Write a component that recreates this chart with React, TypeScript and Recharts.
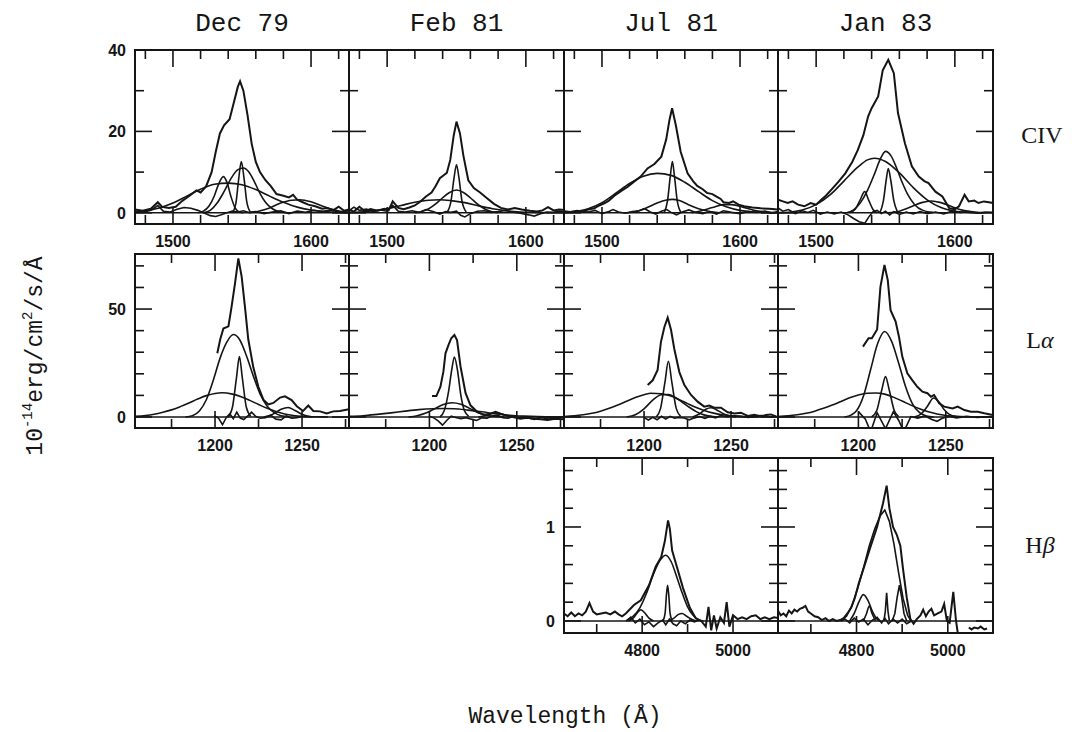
import { LineChart, Line, XAxis, YAxis, ReferenceLine } from "recharts"

// ============================================
// DATA ([wavelength Å, flux 1e-14 erg/cm2/s/Å])
// ============================================

type Pt = [number, number]

// ---------- CIV ----------
const civDec79Obs: Pt[] = [[1472.5,0.8],[1478,0.5],[1484,1.0],[1489,2.6],[1492,1.5],[1497,1.2],[1502,1.5],[1507,3.0],[1512,4.2],[1517,5.5],[1520,5.0],[1524,6.5],[1528,10],[1531,15],[1534,19.5],[1537,21.5],[1541,23],[1544,27],[1547,31],[1548.6,32.3],[1551,30],[1554,24],[1557,17],[1560,12.5],[1563,10],[1567,8],[1571,6.5],[1575,4.6],[1580,4.2],[1584,3.8],[1587,4.4],[1590,3.2],[1594,2.6],[1598,2.0],[1603,1.6],[1608,1.0],[1612,1.2],[1616,0.6],[1620,1.5],[1624,0.5],[1627.5,0.8]]
const civDec79Broad: Pt[] = [[1472.5,0.2],[1480,0.5],[1490,1.2],[1500,2.4],[1510,4.1],[1520,5.8],[1530,7.0],[1540,7.3],[1550,6.9],[1560,5.7],[1570,4.1],[1580,2.6],[1590,1.4],[1600,0.7],[1610,0.3],[1620,0.1],[1627.5,0.05]]
const civDec79Blue: Pt[] = [[1518,0],[1522,0.4],[1526,1.6],[1530,4.2],[1533,7.0],[1536.5,8.9],[1539,7.6],[1542,4.0],[1545,1.2],[1548,0.2],[1551,0]]
const civDec79Mid: Pt[] = [[1522,0],[1527,0.6],[1532,2.4],[1537,5.2],[1542,8.4],[1547,10.6],[1551,11],[1555,10],[1559,7.6],[1563,4.8],[1567,2.6],[1572,1.0],[1578,0.2],[1583,0]]
const civDec79Narrow: Pt[] = [[1543,0],[1545.5,2.2],[1547.5,8],[1549.5,12.6],[1551.5,8.4],[1553.5,2.6],[1556,0.2]]
const civDec79Red: Pt[] = [[1555,0],[1562,0.4],[1570,1.2],[1578,2.4],[1586,3.1],[1592,3.2],[1600,2.7],[1608,1.7],[1616,0.8],[1622,0.3],[1627.5,0.1]]
const civDec79Resid: Pt[] = [[1472.5,0.4],[1478,0.1],[1484,0.6],[1489,1.8],[1493,0.4],[1498,0.2],[1503,0.9],[1508,1.3],[1513,1.1],[1518,0.6],[1523,-0.1],[1527,-0.7],[1531,-0.9],[1535,-0.5],[1539,0.0],[1543,0.4],[1547,0.2],[1551,0.5],[1555,0.1],[1560,0.3],[1566,-0.2],[1572,0.2],[1578,0.5],[1584,-0.2],[1590,0.4],[1596,0.1],[1602,0.6],[1608,0.3],[1614,0.7],[1620,0.2],[1627.5,0.5]]

const civFeb81Obs: Pt[] = [[1472.5,0.8],[1476,0.3],[1480,1.5],[1484,0.4],[1488,0.9],[1493,0.5],[1498,1.0],[1501,0.6],[1504,2.8],[1508,1.2],[1512,0.9],[1516,1.3],[1520,1.8],[1524,2.8],[1528,4.0],[1532,5.0],[1535,6.6],[1538,8.5],[1541,9.3],[1543,9.8],[1545.5,13],[1548,19],[1550,22.4],[1552.5,19.5],[1555,14],[1558.5,8],[1562.5,6.1],[1567,5.0],[1572,3.6],[1577,2.2],[1582,1.2],[1587,0.8],[1592,1.2],[1597,0.8],[1603,0.5],[1608,0.3],[1612,0.6],[1616,1.4],[1620,0.6],[1624,0.8],[1627.5,0.7]]
const civFeb81Narrow: Pt[] = [[1543,0],[1546,2.8],[1548.2,8.5],[1550,11.8],[1551.8,8.5],[1554,2.8],[1557,0.2]]
const civFeb81Mid: Pt[] = [[1520,0],[1525,0.3],[1530,1.0],[1535,2.2],[1540,3.7],[1545,5.0],[1550,5.6],[1555,5.0],[1560,3.7],[1565,2.2],[1570,1.0],[1575,0.3],[1580,0]]
const civFeb81Broad: Pt[] = [[1472.5,0.1],[1480,0.2],[1490,0.5],[1500,1.0],[1510,1.8],[1520,2.6],[1530,3.1],[1538,3.2],[1546,3.0],[1556,2.5],[1566,1.7],[1576,1.0],[1586,0.5],[1596,0.2],[1606,0.1],[1616,0]]
const civFeb81Resid: Pt[] = [[1472.5,0.5],[1476,1.4],[1480,0.6],[1485,0.9],[1490,0.3],[1495,0.7],[1500,0.4],[1504,1.8],[1508,0.4],[1513,0.2],[1518,0.5],[1523,0.1],[1528,0.8],[1533,0.3],[1538,-0.3],[1542,0.3],[1546,0.1],[1550,0.4],[1553,-0.6],[1556,-1.0],[1560,-0.2],[1565,0.4],[1570,0.5],[1575,0.1],[1580,0.3],[1585,0.6],[1590,0.2],[1596,-0.1],[1602,-0.5],[1606,-0.8],[1610,-0.3],[1615,0.2],[1620,0.1],[1624,0.4],[1627.5,0.2]]

const civJul81Obs: Pt[] = [[1472.5,0.4],[1477,0.2],[1482,0.5],[1486,0.3],[1490,0.8],[1494.5,1.1],[1498,1.8],[1502,2.4],[1505,3.0],[1509,4.2],[1514,5.4],[1518.7,6.4],[1523,7.6],[1528,8.9],[1533,10.9],[1538,12],[1543,13.8],[1546.5,18],[1549,23],[1550.8,25.7],[1553.5,21.5],[1557,15],[1562,9.7],[1566,7.8],[1569,6.6],[1573,5.8],[1576,4.9],[1580,4.6],[1583,4.0],[1586,3.4],[1588,2.6],[1592,2.4],[1595,2.8],[1599,2.0],[1603,1.6],[1609,1.3],[1615,1.1],[1621,1.0],[1627.5,0.8]]
const civJul81Broad: Pt[] = [[1472.5,0.05],[1480,0.3],[1490,1.0],[1500,2.5],[1510,4.8],[1520,7.2],[1530,9.0],[1540,9.7],[1550,9.2],[1560,7.5],[1570,5.2],[1580,3.0],[1590,1.5],[1600,0.6],[1610,0.2],[1620,0.05],[1627.5,0]]
const civJul81Narrow: Pt[] = [[1545,0],[1547.5,3],[1549.5,9],[1551,12.6],[1552.5,9],[1554.5,3],[1557,0.2]]
const civJul81Mid: Pt[] = [[1518,0],[1525,0.3],[1532,1.2],[1540,2.4],[1546,3.1],[1551,3.3],[1556,3.0],[1562,2.1],[1570,1.0],[1578,0.3],[1585,0]]
const civJul81Red: Pt[] = [[1565,0],[1572,0.5],[1580,1.3],[1588,2.0],[1594,2.0],[1602,1.4],[1610,0.6],[1618,0.2],[1625,0]]
const civJul81Resid: Pt[] = [[1472.5,0.3],[1478,0.1],[1484,0.4],[1490,0.2],[1495,0.6],[1500,-0.2],[1505,0.3],[1508,0.8],[1512,0.2],[1517,-0.1],[1522,0.3],[1527,0.5],[1531,1.0],[1535,0.2],[1539,-0.3],[1543,0.4],[1547,0.8],[1550,0.1],[1554,-0.5],[1558,0.2],[1563,0.7],[1568,0.1],[1573,-0.2],[1578,0.3],[1583,-0.3],[1588,0.5],[1594,0.1],[1600,-0.2],[1606,0.3],[1612,0.1],[1618,0.4],[1623,0.0],[1627.5,0.3]]

const civJan83Obs: Pt[] = [[1472.5,3.2],[1476,2.8],[1479.5,2.4],[1483,2.8],[1487,2.0],[1491.5,1.6],[1496,2.4],[1500,2.0],[1503.7,3.2],[1507,4.2],[1511,5.7],[1516,7.6],[1521,9.7],[1526,12.5],[1530,15.4],[1534,19],[1537.5,23.7],[1540,25.7],[1544.7,28.6],[1548,35],[1552,37.6],[1556,34.3],[1559,24.5],[1564,17.1],[1569,11.4],[1574,8.9],[1578,7.8],[1581,7.3],[1586,5.2],[1591,4.0],[1596,1.1],[1600,0.9],[1603,1.6],[1607,4.4],[1610,2.8],[1614,3.0],[1617,2.4],[1621,2.8],[1624.5,2.6],[1627.5,2.4]]
const civJan83Broad: Pt[] = [[1472.5,0.05],[1480,0.15],[1490,0.7],[1500,2.0],[1510,4.4],[1520,7.8],[1530,11.2],[1537,13.0],[1542,13.4],[1550,12.6],[1560,9.8],[1570,6.2],[1580,3.2],[1590,1.3],[1600,0.4],[1610,0.1],[1620,0]]
const civJan83Mid: Pt[] = [[1522,0],[1527,0.7],[1532,2.5],[1537,5.5],[1542,9.5],[1546,13],[1550,15.1],[1554,14],[1558,11],[1562,7.5],[1566,4.5],[1571,2.0],[1577,0.6],[1584,0.1]]
const civJan83Narrow: Pt[] = [[1546,0],[1548.5,3],[1550.5,8],[1552,10.9],[1553.8,8],[1556,3],[1558.5,0.3]]
const civJan83Blue: Pt[] = [[1524,0],[1528,0.8],[1531.5,3],[1535,5.2],[1538,3],[1541,0.8],[1544,0]]
const civJan83Red: Pt[] = [[1552,0],[1560,0.4],[1568,1.4],[1576,2.5],[1583,2.9],[1590,2.5],[1598,1.5],[1606,0.6],[1614,0.2],[1622,0]]
const civJan83Resid: Pt[] = [[1472.5,1.2],[1476,0.4],[1480,0.8],[1485,-0.2],[1490,0.5],[1494,0.1],[1498,0.6],[1503,-0.3],[1508,0.2],[1513,-0.3],[1518,0.2],[1523,-0.5],[1527,-1.4],[1531,-2.2],[1535,-2.6],[1538,-1.0],[1541,0.3],[1544,0.6],[1547,-0.2],[1550,0.4],[1553,-0.5],[1556,0.3],[1560,-0.4],[1565,0.2],[1570,-0.3],[1575,0.3],[1580,-0.2],[1586,0.2],[1592,-0.3],[1598,0.4],[1604,0.1],[1610,0.3],[1616,-0.1],[1622,0.2],[1627.5,0.1]]

// ---------- Lyman alpha ----------
const lyaDec79Obs: Pt[] = [[1201.3,29.5],[1203,36],[1204.8,41],[1207.7,42],[1209.5,51],[1211.5,62],[1213.4,73.5],[1215.3,65],[1217.2,51],[1219.1,36],[1222,23],[1224.9,14],[1227.8,8],[1230.7,5.8],[1233.5,6.5],[1237.4,9],[1240.2,9.6],[1244,7.8],[1247,5],[1250.6,2.8],[1253.6,5.3],[1256.5,2.8],[1260.3,2.6],[1264.2,1.6],[1268,2.6],[1271.8,2.8],[1277,3.6]]
const lyaDec79Broad: Pt[] = [[1154,0.3],[1160,0.7],[1165,1.3],[1170,2.2],[1175,3.3],[1180,4.8],[1185,6.5],[1190,8.3],[1195,9.9],[1200,10.9],[1204,11.2],[1210,10.6],[1215,9.4],[1220,7.7],[1225,5.8],[1230,4.0],[1235,2.5],[1240,1.4],[1245,0.7],[1250,0.3],[1258,0.1],[1265,0]]
const lyaDec79Mid: Pt[] = [[1183,0],[1187,0.6],[1191,2.8],[1195,8],[1199,17],[1203,27.5],[1207,35],[1210.5,38.2],[1214,36],[1218,28.5],[1222,19],[1226,10.5],[1230,5],[1234,2],[1238,0.6],[1243,0.1]]
const lyaDec79Narrow: Pt[] = [[1207.5,0],[1210,4.5],[1212.3,18],[1214,28],[1215.7,18],[1218,4.5],[1220.5,0.3]]
const lyaDec79Red: Pt[] = [[1228,0],[1233,1.2],[1238,3.6],[1242,4.4],[1246,3.0],[1251,0.9],[1256,0]]
const lyaDec79Resid: Pt[] = [[1199.5,0.6],[1202,-0.5],[1204.3,-3.5],[1206.5,-0.2],[1208.5,1.5],[1210.5,-0.8],[1212.5,2.2],[1214.5,-0.5],[1216.5,-1.2],[1219,0.6],[1221,2.2],[1223.5,0.2],[1226,-0.6],[1229,-0.3],[1232,0.8],[1235,-1.0],[1238,-1.3],[1241,0.5],[1244,-0.6],[1247,-0.3],[1250,0.2]]

const lyaFeb81Obs: Pt[] = [[1201.5,9.7],[1204,9.7],[1206.3,14],[1208,21],[1209.2,29.5],[1211,33.5],[1212.5,36.5],[1214.3,38],[1215.8,35.6],[1217.8,23.4],[1220.7,11],[1223.5,5.4],[1227.3,2.4],[1231.2,1.0],[1235,1.5],[1237.8,2.4],[1240.7,1.5],[1243.5,0.8],[1246.5,0.2],[1252,-0.8],[1256,-0.3],[1259.9,-0.8],[1263.7,-1.1],[1267.6,-1.4],[1272,-0.8],[1277,-1.1]]
const lyaFeb81Narrow: Pt[] = [[1206,0],[1208.5,3],[1211,12],[1212.8,22],[1214.3,27.8],[1216,22],[1218,10],[1220,3],[1222.5,0.3]]
const lyaFeb81Mid: Pt[] = [[1188,0],[1193,0.6],[1198,1.8],[1203,3.8],[1208,5.8],[1213,6.6],[1218,5.9],[1223,4.0],[1228,2.0],[1233,0.8],[1238,0.2],[1243,0]]
const lyaFeb81Broad: Pt[] = [[1154,0.3],[1162,0.6],[1170,1.2],[1178,1.9],[1186,2.7],[1194,3.4],[1202,3.8],[1208,3.9],[1214,3.8],[1222,3.2],[1230,2.4],[1238,1.5],[1246,0.8],[1254,0.4],[1262,0.15],[1270,0.05],[1277,0]]
const lyaFeb81Red: Pt[] = [[1228,0],[1232,0.7],[1235.5,1.6],[1238,2.0],[1241,1.5],[1244.5,0.6],[1249,0]]
const lyaFeb81Resid: Pt[] = [[1200,0.4],[1202.5,-0.4],[1205,-1.8],[1207.5,-3.8],[1210,-1.5],[1212.5,0.4],[1215,-0.2],[1218,-0.8],[1221,-0.3],[1224,-1.0],[1227,-1.6],[1230,-0.4],[1233,-0.6],[1236,0.6],[1239,0.9],[1242,-0.3],[1245,-0.6],[1248,0.2],[1252,-0.4],[1256,-0.3],[1260,-1.1],[1264,-0.2],[1268,-0.9],[1272,-0.4],[1277,0.1]]

const lyaJul81Obs: Pt[] = [[1202.1,14.8],[1205,17],[1207.8,21.8],[1209.7,34.7],[1211.7,41.7],[1213.6,46],[1215.5,40.4],[1217.4,31.5],[1220.3,20.8],[1223.2,14.8],[1227,10.2],[1230.8,7.1],[1234.6,4.8],[1237.5,5.3],[1240.4,4.3],[1244.2,4.3],[1248.1,2.2],[1252,1.6],[1255.7,2.0],[1259.6,0.5],[1263.4,1.0],[1267.2,0.2],[1270,0.9],[1273,1.2],[1276,0.2]]
const lyaJul81Broad: Pt[] = [[1154,0.2],[1160,0.5],[1165,1.0],[1170,1.7],[1175,2.7],[1180,4.0],[1185,5.6],[1190,7.3],[1195,9.0],[1200,10.3],[1204,11],[1210,10.8],[1215,9.8],[1220,8.1],[1225,6.2],[1230,4.4],[1235,2.9],[1240,1.8],[1245,1.0],[1250,0.5],[1258,0.15],[1266,0]]
const lyaJul81Mid: Pt[] = [[1190,0],[1195,1.0],[1200,3.8],[1205,7.8],[1210,10.3],[1214,10.4],[1218,9.0],[1222,6.8],[1226,4.5],[1230,2.5],[1234,1.1],[1238,0.4],[1242,0]]
const lyaJul81Narrow: Pt[] = [[1207,0],[1209.5,4],[1212,16],[1214,25.8],[1216,16],[1218.5,4],[1221,0.3]]
const lyaJul81Red: Pt[] = [[1228,0],[1232,1.5],[1235.5,3.6],[1238.4,4.3],[1241.5,3.4],[1245,1.8],[1249,0.6],[1253,0]]
const lyaJul81Resid: Pt[] = [[1200,-0.3],[1202.5,-1.4],[1205,-0.2],[1207.5,-1.3],[1210,0.3],[1212.5,-1.0],[1215,0.3],[1217.5,-0.6],[1220,-0.2],[1223,-0.5],[1226,-1.3],[1229,-0.4],[1232,0.2],[1235,-0.7],[1238,0.3],[1241,-0.4],[1244,0.6],[1248,0.1],[1252,0.6],[1256,0.3],[1260,-0.2],[1264,0.5],[1268,0.7],[1272,0.1],[1276,0.3]]

const lyaJan83Obs: Pt[] = [[1202.6,32.6],[1205.8,36.5],[1207.7,36.5],[1210.7,40.5],[1212.6,60.3],[1214.9,70.4],[1216.8,63.4],[1218.4,49.5],[1221.3,44.2],[1223.2,37.2],[1225.1,28],[1228,20.2],[1230.8,17.1],[1233.7,14],[1236.6,11.7],[1239.5,11],[1241.5,9.4],[1243.3,10.2],[1246.2,6.3],[1249.1,4.8],[1253.9,4.0],[1256.8,4.8],[1260.6,3.2],[1264.4,2.4],[1268.3,2.4],[1272,1.7],[1277,0.9]]
const lyaJan83Mid: Pt[] = [[1192,0],[1196,1.0],[1199,3],[1203,10],[1207,22],[1211,34],[1215,39.6],[1219,35],[1223,25],[1227,14],[1231,6],[1235,2.0],[1239,0.5],[1243,0]]
const lyaJan83Broad: Pt[] = [[1154,0.2],[1160,0.5],[1165,1.0],[1170,1.7],[1175,2.7],[1180,4.0],[1185,5.5],[1190,7.2],[1195,8.9],[1200,10.2],[1205,11],[1210,11.1],[1215,10.6],[1220,9.2],[1225,7.4],[1230,5.5],[1235,3.8],[1240,2.4],[1245,1.4],[1250,0.7],[1256,0.3],[1262,0.1],[1270,0]]
const lyaJan83Narrow: Pt[] = [[1207.5,0],[1210.5,3],[1213.5,13],[1215.5,18.7],[1217.5,13],[1220.5,3],[1223,0.2]]
const lyaJan83Red: Pt[] = [[1232,0],[1236,1.5],[1239.5,5],[1243,8.8],[1246,7],[1249,3.5],[1252,1.2],[1256,0.2]]
const lyaJan83Resid: Pt[] = [[1200,2.5],[1204,-1],[1207,-6.8],[1210.7,2.0],[1215.5,-5.4],[1220,2.5],[1223,-1.5],[1226,-6.8],[1230,0.2],[1234,-0.5],[1238,0.5],[1242,-1.2],[1245,-2.0],[1248,-0.6],[1252,0.3],[1256,-0.4],[1262,0.3],[1268,-0.2],[1276,0.2]]

// ---------- H beta ----------
const hbJul81Obs: Pt[] = [[4628,0.08],[4636,0.05],[4644,0.09],[4652,0.05],[4660,0.08],[4668,0.06],[4676,0.1],[4684,0.19],[4692,0.1],[4700,0.07],[4710,0.08],[4720,0.09],[4730,0.07],[4740,0.1],[4748,0.07],[4756,0.05],[4764,0.08],[4772,0.12],[4782,0.17],[4797,0.22],[4815,0.38],[4830,0.58],[4842,0.68],[4850,0.85],[4857,1.07],[4861,0.98],[4866,0.75],[4878,0.55],[4890,0.35],[4905,0.14],[4918,0.03],[4930,0.0],[4940,-0.06],[4946,0.15],[4952,-0.1],[4958,0.06],[4964,-0.08],[4972,0.04],[4980,-0.02],[4986,0.2],[4992,-0.06],[5000,0.06],[5010,0.02],[5020,0.04],[5030,0.02],[5040,0.05],[5050,0.06],[5060,0.02],[5070,0.04],[5080,0.02],[5090,0.04],[5099,0.03]]
const hbJul81Broad: Pt[] = [[4765,0],[4780,0.05],[4795,0.14],[4810,0.3],[4825,0.5],[4840,0.65],[4852,0.70],[4864,0.63],[4876,0.47],[4888,0.3],[4900,0.15],[4912,0.06],[4925,0.01],[4935,0]]
const hbJul81Narrow: Pt[] = [[4846,0],[4850.5,0.08],[4853.5,0.28],[4856,0.38],[4858.5,0.28],[4861.5,0.08],[4866,0]]
const hbJul81Left: Pt[] = [[4770,0],[4780,0.03],[4790,0.09],[4797,0.12],[4805,0.09],[4815,0.03],[4825,0]]
const hbJul81Right: Pt[] = [[4860,0],[4870,0.03],[4880,0.07],[4888,0.08],[4898,0.05],[4910,0.015],[4920,0]]
const hbJul81Resid: Pt[] = [[4765,0.0],[4775,0.04],[4785,-0.02],[4795,0.02],[4805,-0.04],[4815,-0.01],[4825,-0.06],[4835,-0.02],[4845,0.01],[4852,-0.04],[4860,0.02],[4868,-0.03],[4876,-0.05],[4885,0.0],[4895,-0.03],[4905,0.01],[4915,-0.01],[4925,0.01]]

const hbJan83Obs: Pt[] = [[4628,0.11],[4634,0.06],[4640,0.08],[4646,0.05],[4652,0.11],[4658,0.08],[4664,0.12],[4670,0.1],[4676,0.13],[4682,0.14],[4688,0.16],[4694,0.1],[4700,0.08],[4708,0.05],[4716,0.04],[4724,0.01],[4732,0.03],[4740,0.0],[4748,0.02],[4756,0.0],[4764,0.01],[4772,0.03],[4780,0.08],[4788,0.14],[4796,0.24],[4805,0.4],[4815,0.55],[4830,0.78],[4845,1.0],[4858,1.25],[4866,1.44],[4872,1.2],[4880,1.0],[4888,0.92],[4896,0.8],[4902,0.55],[4910,0.25],[4918,0.02],[4925,-0.03],[4932,0.02],[4940,0.06],[4946,0.12],[4952,0.05],[4958,0.1],[4964,0.13],[4970,0.06],[4978,0.08],[4986,0.1],[4992,0.18],[4998,0.0],[5004,-0.02],[5012,0.31],[5018,0.0],[5024,-0.2]]
const hbJan83Tail: Pt[] = [[5046,-0.07],[5052,-0.09],[5058,-0.07],[5066,-0.08],[5072,-0.06],[5080,-0.09],[5086,-0.08]]
const hbJan83Broad: Pt[] = [[4765,0],[4778,0.05],[4790,0.16],[4802,0.34],[4815,0.56],[4828,0.8],[4840,0.98],[4852,1.12],[4862,1.18],[4872,1.06],[4882,0.82],[4892,0.52],[4902,0.24],[4912,0.06],[4920,0]]
const hbJan83Left: Pt[] = [[4785,0],[4795,0.08],[4805,0.2],[4815,0.28],[4825,0.22],[4835,0.1],[4845,0.02],[4852,0]]
const hbJan83Blue: Pt[] = [[4815,0],[4822,0.08],[4828,0.16],[4834,0.08],[4842,0]]
const hbJan83Narrow: Pt[] = [[4860,0],[4863,0.1],[4866,0.3],[4869,0.1],[4872,0]]
const hbJan83Red: Pt[] = [[4878,0],[4884,0.08],[4889,0.25],[4894,0.38],[4899,0.25],[4904,0.08],[4910,0]]
const hbJan83Resid: Pt[] = [[4765,0.0],[4775,0.02],[4785,-0.02],[4795,0.03],[4805,-0.01],[4815,0.02],[4825,-0.04],[4835,0.01],[4845,0.04],[4855,-0.02],[4862,0.03],[4870,-0.03],[4880,0.02],[4890,-0.02],[4900,0.02],[4910,-0.03],[4920,0.0]]

// ---------- axes ----------
const epochs = ["Dec 79", "Feb 81", "Jul 81", "Jan 83"]

const civXTicks = [1480, 1500, 1520, 1540, 1560, 1580, 1600, 1620]
const civXLabels = [1500, 1600]
const civYTicks = [0, 10, 20, 30, 40]
const civYLabels = [0, 20, 40]

const lyaXTicks = [1175, 1200, 1225, 1250, 1275]
const lyaXLabels = [1200, 1250]
const lyaYTicks = [0, 10, 20, 30, 40, 50, 60, 70]
const lyaYLabels = [0, 50]

const hbXTicks = [4700, 4800, 4900, 5000]
const hbXLabels = [4800, 5000]
const hbYTicks = [0, 0.2, 0.4, 0.6, 0.8, 1, 1.2, 1.4, 1.6]
const hbYLabels = [0, 1]

// ============================================
// LAYOUT
// ============================================

type Row = {
  top: number
  height: number
  xDomain: [number, number]
  yDomain: [number, number]
  xTicks: number[]
  xLabels: number[]
  yTicks: number[]
  yLabels: number[]
}

const rows: Row[] = [
  { top: 50, height: 174, xDomain: [1472.5, 1627.5], yDomain: [-2.75, 40], xTicks: civXTicks, xLabels: civXLabels, yTicks: civYTicks, yLabels: civYLabels },
  { top: 254, height: 174, xDomain: [1154, 1277], yDomain: [-5.1, 75.5], xTicks: lyaXTicks, xLabels: lyaXLabels, yTicks: lyaYTicks, yLabels: lyaYLabels },
  { top: 458, height: 175, xDomain: [4628, 5099], yDomain: [-0.128, 1.734], xTicks: hbXTicks, xLabels: hbXLabels, yTicks: hbYTicks, yLabels: hbYLabels },
]

const colLeft = [135, 349, 564, 778]
const colWidth = [214, 215, 214, 215]

type Curve = { pts: Pt[]; smooth?: boolean; obs?: boolean }
type Panel = { row: number; col: number; showY: boolean; curves: Curve[] }

const panels: Panel[] = [
  { row: 0, col: 0, showY: true, curves: [
    { pts: civDec79Resid }, { pts: civDec79Broad, smooth: true }, { pts: civDec79Blue, smooth: true },
    { pts: civDec79Mid, smooth: true }, { pts: civDec79Narrow, smooth: true }, { pts: civDec79Red, smooth: true },
    { pts: civDec79Obs, obs: true } ] },
  { row: 0, col: 1, showY: false, curves: [
    { pts: civFeb81Resid }, { pts: civFeb81Broad, smooth: true }, { pts: civFeb81Mid, smooth: true },
    { pts: civFeb81Narrow, smooth: true }, { pts: civFeb81Obs, obs: true } ] },
  { row: 0, col: 2, showY: false, curves: [
    { pts: civJul81Resid }, { pts: civJul81Broad, smooth: true }, { pts: civJul81Mid, smooth: true },
    { pts: civJul81Narrow, smooth: true }, { pts: civJul81Red, smooth: true }, { pts: civJul81Obs, obs: true } ] },
  { row: 0, col: 3, showY: false, curves: [
    { pts: civJan83Resid }, { pts: civJan83Broad, smooth: true }, { pts: civJan83Mid, smooth: true },
    { pts: civJan83Narrow, smooth: true }, { pts: civJan83Blue, smooth: true }, { pts: civJan83Red, smooth: true },
    { pts: civJan83Obs, obs: true } ] },
  { row: 1, col: 0, showY: true, curves: [
    { pts: lyaDec79Resid }, { pts: lyaDec79Broad, smooth: true }, { pts: lyaDec79Mid, smooth: true },
    { pts: lyaDec79Narrow, smooth: true }, { pts: lyaDec79Red, smooth: true }, { pts: lyaDec79Obs, obs: true } ] },
  { row: 1, col: 1, showY: false, curves: [
    { pts: lyaFeb81Resid }, { pts: lyaFeb81Broad, smooth: true }, { pts: lyaFeb81Mid, smooth: true },
    { pts: lyaFeb81Narrow, smooth: true }, { pts: lyaFeb81Red, smooth: true }, { pts: lyaFeb81Obs, obs: true } ] },
  { row: 1, col: 2, showY: false, curves: [
    { pts: lyaJul81Resid }, { pts: lyaJul81Broad, smooth: true }, { pts: lyaJul81Mid, smooth: true },
    { pts: lyaJul81Narrow, smooth: true }, { pts: lyaJul81Red, smooth: true }, { pts: lyaJul81Obs, obs: true } ] },
  { row: 1, col: 3, showY: false, curves: [
    { pts: lyaJan83Resid }, { pts: lyaJan83Broad, smooth: true }, { pts: lyaJan83Mid, smooth: true },
    { pts: lyaJan83Narrow, smooth: true }, { pts: lyaJan83Red, smooth: true }, { pts: lyaJan83Obs, obs: true } ] },
  { row: 2, col: 2, showY: true, curves: [
    { pts: hbJul81Resid }, { pts: hbJul81Broad, smooth: true }, { pts: hbJul81Narrow, smooth: true },
    { pts: hbJul81Left, smooth: true }, { pts: hbJul81Right, smooth: true }, { pts: hbJul81Obs, obs: true } ] },
  { row: 2, col: 3, showY: false, curves: [
    { pts: hbJan83Resid }, { pts: hbJan83Broad }, { pts: hbJan83Left, smooth: true },
    { pts: hbJan83Blue, smooth: true }, { pts: hbJan83Narrow }, { pts: hbJan83Red },
    { pts: hbJan83Tail, obs: true }, { pts: hbJan83Obs, obs: true } ] },
]

// plot offsets inside each panel's svg: y axis strip on the left, x axis strip below
const Y_W = 46
const X_H = 30
const PAD_T = 14
const PAD_R = 6
const INK = "#151515"
const tickFont = { fontFamily: "'Liberation Sans', Arial, sans-serif", fontWeight: 700, fontSize: 16 }

function SpectrumPanel({ panel }: { panel: Panel }) {
  const row = rows[panel.row]
  const w = colWidth[panel.col]
  const h = row.height
  const top = PAD_T
  const bottom = PAD_T + h
  const left = Y_W
  const right = Y_W + w

  const xTick = (props: any) => {
    const x = props.x
    const v = props.payload.value
    const major = row.xLabels.includes(v)
    const len = major ? 17 : 9
    return (
      <g>
        <line x1={x} x2={x} y1={bottom} y2={bottom - len} stroke={INK} strokeWidth={1.6} />
        <line x1={x} x2={x} y1={top} y2={top + len} stroke={INK} strokeWidth={1.6} />
        {major && (
          <text x={x} y={bottom + 23} textAnchor="middle" fill={INK} {...tickFont}>{v}</text>
        )}
      </g>
    )
  }

  const yTick = (props: any) => {
    const y = props.y
    const v = props.payload.value
    const major = row.yLabels.includes(v)
    const len = major ? 17 : 9
    return (
      <g>
        <line x1={left} x2={left + len} y1={y} y2={y} stroke={INK} strokeWidth={1.6} />
        <line x1={right} x2={right - len} y1={y} y2={y} stroke={INK} strokeWidth={1.6} />
        {major && panel.showY && (
          <text x={left - 9} y={y + 6} textAnchor="end" fill={INK} {...tickFont}>{v}</text>
        )}
      </g>
    )
  }

  return (
    <div style={{ position: "absolute", left: colLeft[panel.col] - Y_W, top: row.top - PAD_T }}>
      <LineChart
        width={Y_W + w + PAD_R}
        height={PAD_T + h + X_H + 2}
        margin={{ top: PAD_T, right: PAD_R, left: 0, bottom: 2 }}
      >
        <XAxis
          type="number"
          dataKey="x"
          domain={row.xDomain}
          ticks={row.xTicks}
          interval={0}
          allowDataOverflow
          axisLine={false}
          tickLine={false}
          height={X_H}
          tick={xTick}
        />
        <YAxis
          type="number"
          domain={row.yDomain}
          ticks={row.yTicks}
          interval={0}
          allowDataOverflow
          axisLine={false}
          tickLine={false}
          width={Y_W}
          tick={yTick}
        />
        <ReferenceLine y={0} stroke={INK} strokeWidth={1.5} />
        {panel.curves.map((c, i) => (
          <Line
            key={i}
            data={c.pts.map(([x, y]) => ({ x, y }))}
            dataKey="y"
            type={c.smooth ? "monotone" : "linear"}
            stroke={INK}
            strokeWidth={c.obs ? 2 : 1.6}
            dot={false}
            activeDot={false}
            isAnimationActive={false}
          />
        ))}
      </LineChart>
      <div
        style={{
          position: "absolute",
          left: Y_W - 1,
          top: PAD_T - 1,
          width: w + 2,
          height: h + 2,
          border: `2px solid ${INK}`,
          boxSizing: "border-box",
          pointerEvents: "none",
        }}
      />
    </div>
  )
}

export default function App() {
  const mono = "'Liberation Mono', 'DejaVu Sans Mono', monospace"
  const serif = "'Liberation Serif', 'DejaVu Serif', serif"
  return (
    <div style={{ position: "absolute", left: 0, top: 0, width: 1072, height: 732, background: "#fff", overflow: "hidden" }}>
      <svg width={1072} height={732} style={{ position: "absolute", left: 0, top: 0 }}>
        {epochs.map((e, i) => (
          <text key={e} x={colLeft[i] + colWidth[i] / 2} y={31} textAnchor="middle" fontFamily={mono} fontSize={26} fill={INK}>
            {e}
          </text>
        ))}
        <text x={1042} y={143} textAnchor="middle" fontFamily={serif} fontSize={24} fill={INK}>CIV</text>
        <text x={1040} y={348} textAnchor="middle" fontFamily={serif} fontSize={24} fill={INK}>
          L<tspan fontStyle="italic">α</tspan>
        </text>
        <text x={1040} y={553} textAnchor="middle" fontFamily={serif} fontSize={24} fill={INK}>
          H<tspan fontStyle="italic">β</tspan>
        </text>
        <text x={565} y={723} textAnchor="middle" fontFamily={mono} fontSize={23} fill={INK}>
          Wavelength (Å)
        </text>
        <text transform="translate(42 356) rotate(-90)" textAnchor="middle" fontFamily={mono} fontSize={23} fill={INK}>
          10<tspan fontSize={14} dy={-10}>-14</tspan>
          <tspan dy={10}>erg/cm</tspan>
          <tspan fontSize={14} dy={-10}>2</tspan>
          <tspan dy={10}>/s/Å</tspan>
        </text>
      </svg>
      {panels.map((p, i) => (
        <SpectrumPanel key={i} panel={p} />
      ))}
    </div>
  )
}
